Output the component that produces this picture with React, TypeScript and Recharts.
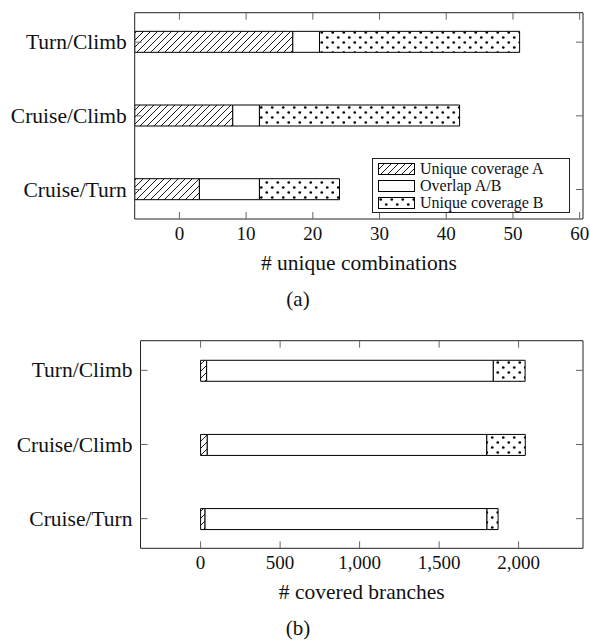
import React from "react";
import { BarChart, Bar, XAxis, YAxis, Legend } from "recharts";

// rows from bottom to top
const categories = ["Cruise/Turn", "Cruise/Climb", "Turn/Climb"];
const seriesNames = ["Unique coverage A", "Overlap A/B", "Unique coverage B"];
const rowTicks = [0, 1, 2];

// (a) # unique combinations
const comboUniqueA = [3, 8, 17];
const comboOverlap = [9, 4, 4];
const comboUniqueB = [12, 30, 30];
const comboTicks = [0, 10, 20, 30, 40, 50, 60];
const comboDomain = [-6.7, 60.5];

// (b) # covered branches
const branchUniqueA = [28, 42, 38];
const branchOverlap = [1773, 1758, 1803];
const branchUniqueB = [70, 242, 200];
const branchTicks = [0, 500, 1000, 1500, 2000];
const branchDomain = [-378, 2405];

const FONT = "'Liberation Serif', 'Times New Roman', serif";
const TICK_LEN = 7;
const FRAME = "#222";
const TICK_COLOR = "#666";

type Row = { pos: number; name: string; a: number[]; o: number[]; b: number[] };

// segments as ranges; in (a) the first segment runs from the left edge of the plot
function buildRows(uniqueA: number[], overlap: number[], uniqueB: number[], start: number): Row[] {
  return categories.map((name, i) => {
    const endA = start < 0 ? uniqueA[i] : start + uniqueA[i];
    const endO = endA + overlap[i];
    return { pos: i, name, a: [start, endA], o: [endA, endO], b: [endO, endO + uniqueB[i]] };
  });
}

const comboRows = buildRows(comboUniqueA, comboOverlap, comboUniqueB, comboDomain[0]);
const branchRows = buildRows(branchUniqueA, branchOverlap, branchUniqueB, 0);

const renderLegend = (props: any) => {
  const items = [...(props.payload || [])].sort(
    (p: any, q: any) => seriesNames.indexOf(p.value) - seriesNames.indexOf(q.value)
  );
  return (
    <div
      style={{
        border: `1px solid ${FRAME}`,
        background: "#fff",
        padding: "1px 5px",
        fontFamily: FONT,
        fontSize: 16,
        lineHeight: "17px",
        color: "#111",
        boxSizing: "border-box",
        width: 198,
      }}
    >
      {items.map((e: any) => (
        <div key={e.value} style={{ display: "flex", alignItems: "center", height: 17 }}>
          <svg width={37} height={12} style={{ marginRight: 5, flex: "none" }}>
            <rect x={0.5} y={0.5} width={36} height={11} fill={e.color} stroke="#000" />
          </svg>
          <span>{e.value}</span>
        </div>
      ))}
    </div>
  );
};

interface PanelProps {
  id: string;
  rows: Row[];
  xDomain: number[];
  xTicks: number[];
  xFormat: (v: number) => string;
  xTitle: string;
  height: number;
  plotTop: number;
  plotBottom: number;
  plotLeft: number;
  withLegend?: boolean;
}

function Panel({ id, rows, xDomain, xTicks, xFormat, xTitle, height, plotTop, plotBottom, plotLeft, withLegend }: PanelProps) {
  const hatch = `${id}-hatch`;
  const dots = `${id}-dots`;
  const yDomain = [-0.4, 2.4];

  return (
    <BarChart
      width={590}
      height={height}
      data={rows}
      layout="vertical"
      barSize={21}
      barGap={-21}
      margin={{ top: plotTop - 1, right: 6, bottom: 0, left: 0 }}
      style={{ fontFamily: FONT }}
    >
      <defs>
        <pattern id={hatch} patternUnits="userSpaceOnUse" width={7} height={7}>
          <rect width={7} height={7} fill="#fff" />
          <path d="M-1,1 l2,-2 M0,7 l7,-7 M6,8 l2,-2" stroke="#000" strokeWidth={0.9} />
        </pattern>
        <pattern id={dots} patternUnits="userSpaceOnUse" width={11} height={10}>
          <rect width={11} height={10} fill="#fff" />
          <circle cx={2.75} cy={2.5} r={1.35} fill="#000" />
          <circle cx={8.25} cy={7.5} r={1.35} fill="#000" />
        </pattern>
      </defs>

      <XAxis
        type="number"
        domain={xDomain}
        allowDataOverflow
        ticks={xTicks}
        interval={0}
        height={height - plotBottom}
        tickSize={0}
        tickMargin={0}
        tickLine={false}
        axisLine={{ stroke: FRAME }}
        tick={(p: any) => (
          <g>
            <line x1={p.x} y1={p.y} x2={p.x} y2={p.y - TICK_LEN} stroke={TICK_COLOR} />
            <text x={p.x} y={p.y + 14} textAnchor="middle" dominantBaseline="central" fontFamily={FONT} fontSize={19} fill="#111">
              {xFormat(p.payload.value)}
            </text>
          </g>
        )}
        label={{
          content: (p: any) => {
            const vb = p.viewBox || {};
            return (
              <text x={vb.x + vb.width / 2} y={vb.y + 44} textAnchor="middle" dominantBaseline="central" fontFamily={FONT} fontSize={21.5} fill="#111">
                {xTitle}
              </text>
            );
          },
        }}
      />
      <XAxis
        xAxisId="top"
        orientation="top"
        type="number"
        domain={xDomain}
        allowDataOverflow
        ticks={xTicks}
        interval={0}
        height={1}
        tickSize={0}
        tickMargin={0}
        tickLine={false}
        axisLine={{ stroke: FRAME }}
        tick={(p: any) => <line x1={p.x} y1={p.y} x2={p.x} y2={p.y + TICK_LEN} stroke={TICK_COLOR} />}
      />
      <YAxis
        type="number"
        dataKey="pos"
        domain={yDomain}
        reversed
        allowDataOverflow
        ticks={rowTicks}
        interval={0}
        width={plotLeft}
        tickSize={0}
        tickMargin={0}
        tickLine={false}
        axisLine={{ stroke: FRAME }}
        tick={(p: any) => (
          <g>
            <line x1={p.x} y1={p.y} x2={p.x + TICK_LEN} y2={p.y} stroke={TICK_COLOR} />
            <text x={p.x - 8} y={p.y} textAnchor="end" dominantBaseline="central" fontFamily={FONT} fontSize={21.5} fill="#111">
              {categories[p.payload.value]}
            </text>
          </g>
        )}
      />
      <YAxis
        yAxisId="right"
        orientation="right"
        type="number"
        dataKey="pos"
        domain={yDomain}
        reversed
        allowDataOverflow
        ticks={rowTicks}
        interval={0}
        width={1}
        tickSize={0}
        tickMargin={0}
        tickLine={false}
        axisLine={{ stroke: FRAME }}
        tick={(p: any) => <line x1={p.x} y1={p.y} x2={p.x - TICK_LEN} y2={p.y} stroke={TICK_COLOR} />}
      />

      <Bar dataKey="a" name={seriesNames[0]} fill={`url(#${hatch})`} stroke="#000" strokeWidth={1} isAnimationActive={false} />
      <Bar dataKey="o" name={seriesNames[1]} fill="#fff" stroke="#000" strokeWidth={1} isAnimationActive={false} />
      <Bar dataKey="b" name={seriesNames[2]} fill={`url(#${dots})`} stroke="#000" strokeWidth={1} isAnimationActive={false} />

      {withLegend && (
        <Legend
          layout="vertical"
          align="center"
          verticalAlign="middle"
          content={renderLegend}
          wrapperStyle={{ left: 372, top: 158, width: 198 }}
        />
      )}
    </BarChart>
  );
}

const captionStyle: React.CSSProperties = {
  position: "absolute",
  left: 248,
  width: 100,
  textAlign: "center",
  fontFamily: FONT,
  fontSize: 21,
  lineHeight: "24px",
  color: "#111",
};

export default function App() {
  return (
    <div style={{ position: "absolute", left: 0, top: 0, width: 590, height: 641, background: "#fff", overflow: "hidden" }}>
      <div style={{ position: "absolute", left: 0, top: 0 }}>
        <Panel
          id="combo"
          rows={comboRows}
          xDomain={comboDomain}
          xTicks={comboTicks}
          xFormat={(v) => String(v)}
          xTitle="# unique combinations"
          height={300}
          plotTop={12.7}
          plotBottom={219}
          plotLeft={134.7}
          withLegend
        />
      </div>
      <div style={{ ...captionStyle, top: 287 }}>(a)</div>
      <div style={{ position: "absolute", left: 0, top: 320 }}>
        <Panel
          id="branch"
          rows={branchRows}
          xDomain={branchDomain}
          xTicks={branchTicks}
          xFormat={(v) => v.toLocaleString("en-US")}
          xTitle="# covered branches"
          height={321}
          plotTop={20.7}
          plotBottom={228.3}
          plotLeft={140.5}
        />
      </div>
      <div style={{ ...captionStyle, top: 616 }}>(b)</div>
    </div>
  );
}
